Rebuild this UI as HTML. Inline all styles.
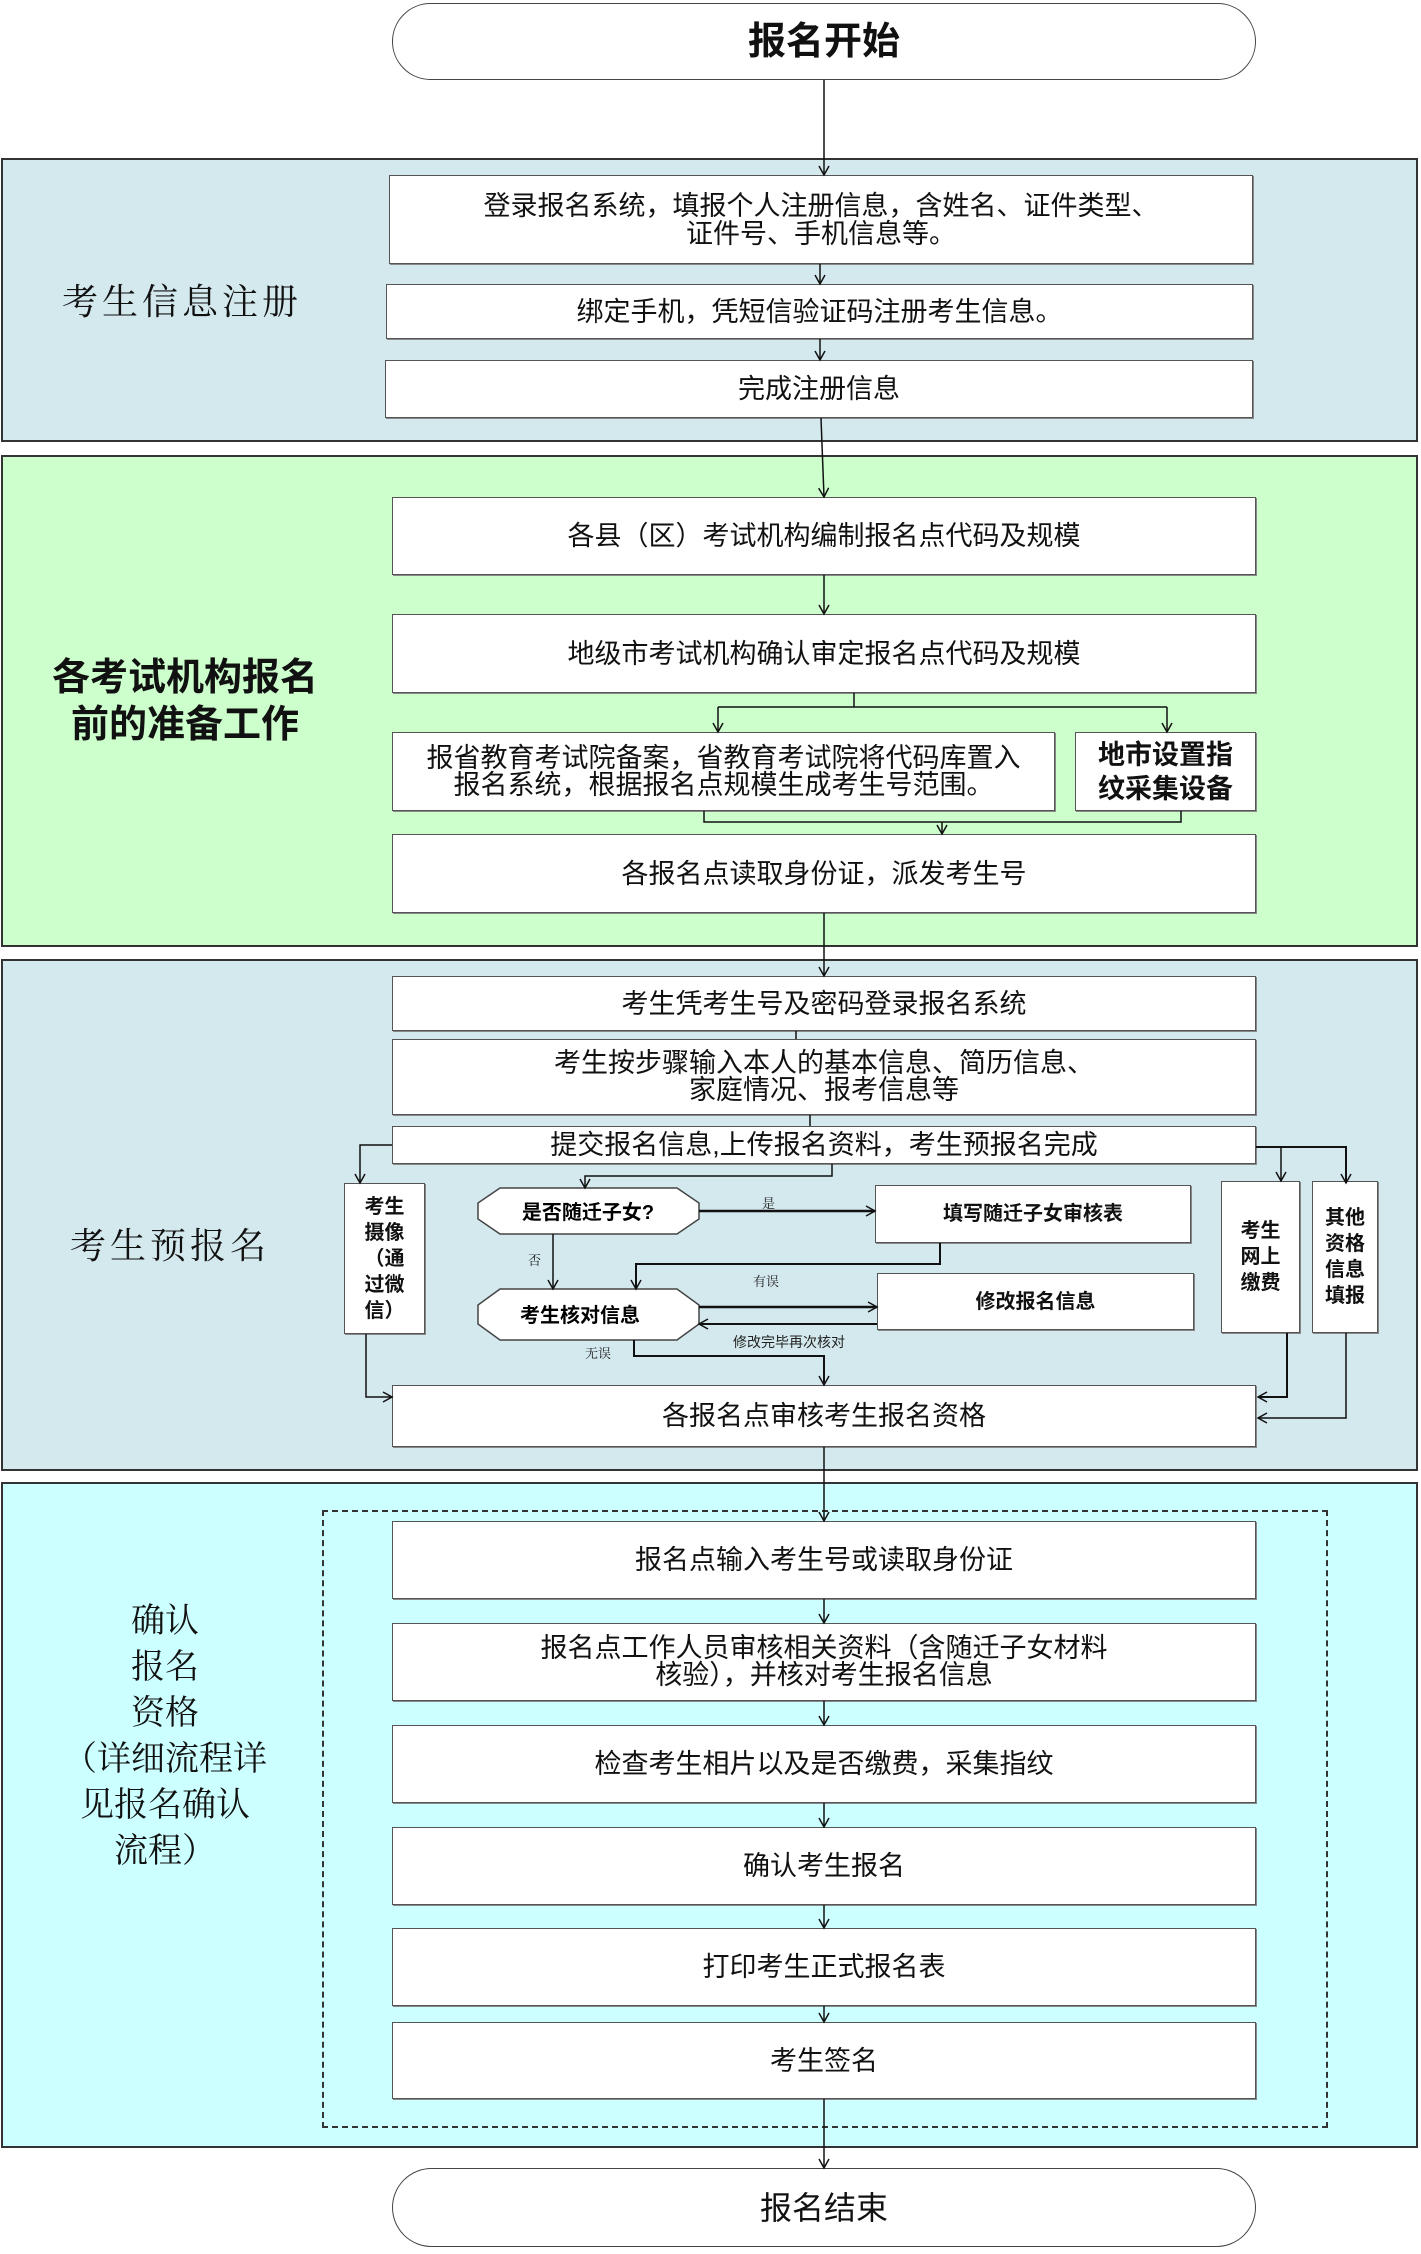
<!DOCTYPE html>
<html><head><meta charset="utf-8">
<style>
*{margin:0;padding:0;box-sizing:border-box}
body{width:1421px;height:2254px;background:#fff;position:relative;overflow:hidden;font-family:"Liberation Sans","Noto Sans CJK SC",sans-serif;color:#111}
.a{position:absolute}
.sec{position:absolute;left:1px;width:1417px;border:2px solid #333}
.box{position:absolute;background:#fff;border:1.5px solid #555;box-shadow:1px 1px 0 #888;display:flex;align-items:center;justify-content:center;text-align:center;font-size:27px;line-height:28px}
.kai{font-family:"Noto Serif CJK SC","WenQuanYi Zen Hei",serif}
.b{font-weight:bold}
.vt{font-size:20px;font-weight:bold;line-height:26px}
</style></head><body>

<div class="sec" style="top:158px;height:284px;background:#d4e9ee"></div>
<div class="sec" style="top:455px;height:492px;background:#ccffcc"></div>
<div class="sec" style="top:959px;height:512px;background:#d4e9ee"></div>
<div class="sec" style="top:1482px;height:666px;background:#ccffff"></div>
<div class="a" style="left:322px;top:1510px;width:1006px;height:618px;border:2px dashed #333"></div>

<div class="box b" style="left:392px;top:3px;width:864px;height:77px;border-radius:40px;font-size:38px;box-shadow:none;border-color:#444">报名开始</div>
<div class="box" style="left:392px;top:2168px;width:864px;height:79px;border-radius:40px;font-size:32px;box-shadow:none;border-color:#444">报名结束</div>

<div class="a kai" style="left:62px;top:274px;font-size:36px;letter-spacing:4px">考生信息注册</div>
<div class="box" style="left:389px;top:175px;width:864px;height:89px">登录报名系统，填报个人注册信息，含姓名、证件类型、<br>证件号、手机信息等。</div>
<div class="box" style="left:386px;top:284px;width:867px;height:55px">绑定手机，凭短信验证码注册考生信息。</div>
<div class="box" style="left:385px;top:360px;width:868px;height:58px">完成注册信息</div>

<div class="a b" style="left:40px;top:655px;width:290px;text-align:center;font-size:38px;line-height:47px">各考试机构报名<br>前的准备工作</div>
<div class="box" style="left:392px;top:497px;width:864px;height:78px">各县（区）考试机构编制报名点代码及规模</div>
<div class="box" style="left:392px;top:614px;width:864px;height:79px">地级市考试机构确认审定报名点代码及规模</div>
<div class="box" style="left:392px;top:732px;width:663px;height:79px;line-height:27px">报省教育考试院备案，省教育考试院将代码库置入<br>报名系统，根据报名点规模生成考生号范围。</div>
<div class="box b" style="left:1075px;top:732px;width:181px;height:79px;font-size:27px;line-height:34px">地市设置指<br>纹采集设备</div>
<div class="box" style="left:392px;top:834px;width:864px;height:79px">各报名点读取身份证，派发考生号</div>

<div class="a kai" style="left:70px;top:1218px;font-size:36px;letter-spacing:4px">考生预报名</div>
<div class="box" style="left:392px;top:976px;width:864px;height:55px">考生凭考生号及密码登录报名系统</div>
<div class="box" style="left:392px;top:1039px;width:864px;height:76px;line-height:27px">考生按步骤输入本人的基本信息、简历信息、<br>家庭情况、报考信息等</div>
<div class="box" style="left:392px;top:1126px;width:864px;height:38px">提交报名信息,上传报名资料，考生预报名完成</div>
<div class="box vt" style="left:344px;top:1183px;width:81px;height:151px;padding:0 6px;align-items:center">考生<br>摄像<br>（通<br>过微<br>信）</div>
<div class="box vt" style="left:1221px;top:1181px;width:79px;height:152px">考生<br>网上<br>缴费</div>
<div class="box vt" style="left:1312px;top:1181px;width:66px;height:152px">其他<br>资格<br>信息<br>填报</div>
<div class="box b" style="left:875px;top:1185px;width:316px;height:58px;font-size:20px">填写随迁子女审核表</div>
<div class="box b" style="left:877px;top:1273px;width:317px;height:57px;font-size:20px">修改报名信息</div>
<div class="box" style="left:392px;top:1385px;width:864px;height:62px">各报名点审核考生报名资格</div>

<div class="a kai" style="left:40px;top:1595px;width:250px;text-align:center;font-size:34px;line-height:46px">确认<br>报名<br>资格<br>（详细流程详<br>见报名确认<br>流程）</div>
<div class="box" style="left:392px;top:1521px;width:864px;height:78px">报名点输入考生号或读取身份证</div>
<div class="box" style="left:392px;top:1623px;width:864px;height:78px;line-height:27px">报名点工作人员审核相关资料（含随迁子女材料<br>核验），并核对考生报名信息</div>
<div class="box" style="left:392px;top:1725px;width:864px;height:78px">检查考生相片以及是否缴费，采集指纹</div>
<div class="box" style="left:392px;top:1827px;width:864px;height:78px">确认考生报名</div>
<div class="box" style="left:392px;top:1928px;width:864px;height:78px">打印考生正式报名表</div>
<div class="box" style="left:392px;top:2022px;width:864px;height:77px">考生签名</div>

<svg class="a" style="left:0;top:0" width="1421" height="2254" viewBox="0 0 1421 2254">
<defs><marker id="ar" markerWidth="12" markerHeight="12" refX="10" refY="6" orient="auto" markerUnits="userSpaceOnUse"><path d="M1,1 L10,6 L1,11" fill="none" stroke="#111" stroke-width="1.5"/></marker></defs>
<g fill="#fff" stroke="#444" stroke-width="1.5">
<polygon points="500,1188 677,1188 699,1203 699,1219 677,1234 500,1234 478,1219 478,1203"/>
<polygon points="500,1289 677,1289 699,1305 699,1324 677,1340 500,1340 478,1324 478,1305"/>
</g>
<text x="588" y="1219" text-anchor="middle" font-size="20" font-weight="bold" font-family="Liberation Sans,Noto Sans CJK SC,sans-serif">是否随迁子女?</text>
<text x="580" y="1322" text-anchor="middle" font-size="20" font-weight="bold" font-family="Liberation Sans,Noto Sans CJK SC,sans-serif">考生核对信息</text>
<g font-family="Noto Serif CJK SC,serif" font-size="13" fill="#222">
<text x="762" y="1208">是</text><text x="528" y="1265">否</text><text x="753" y="1286">有误</text><text x="585" y="1358">无误</text>
</g>
<text x="733" y="1347" font-size="14" font-family="Liberation Sans,Noto Sans CJK SC,sans-serif" fill="#222">修改完毕再次核对</text>
<g stroke="#111" stroke-width="1.5" fill="none">
<path d="M824 80V175" marker-end="url(#ar)"/>
<path d="M820 264V284" marker-end="url(#ar)"/>
<path d="M820 339V360" marker-end="url(#ar)"/>
<path d="M821 418L824 497" marker-end="url(#ar)"/>
<path d="M824 575V614" marker-end="url(#ar)"/>
<path d="M854 693V707M718 707H1167"/>
<path d="M718 707V732" marker-end="url(#ar)"/>
<path d="M1167 707V732" marker-end="url(#ar)"/>
<path d="M704 811V822H1181V811"/>
<path d="M942 822V834" marker-end="url(#ar)"/>
<path d="M824 913V976" marker-end="url(#ar)"/>
<path d="M796 1031V1039M810 1115V1126"/>
<path d="M392 1145H360V1183" marker-end="url(#ar)"/>
<path d="M832 1164V1176H585V1188" marker-end="url(#ar)"/>
<path d="M699 1211H875" stroke-width="2.5" marker-end="url(#ar)"/>
<path d="M553 1234V1289" marker-end="url(#ar)"/>
<path d="M940 1243V1264H636V1289" stroke-width="2" marker-end="url(#ar)"/>
<path d="M699 1307H877" stroke-width="2.5" marker-end="url(#ar)"/>
<path d="M877 1324H699" stroke-width="2" marker-end="url(#ar)"/>
<path d="M634 1340V1356H824V1385" stroke-width="2" marker-end="url(#ar)"/>
<path d="M366 1334V1397H392" marker-end="url(#ar)"/>
<path d="M1256 1147H1346V1183" stroke-width="2" marker-end="url(#ar)"/>
<path d="M1281 1147V1181" marker-end="url(#ar)"/>
<path d="M1287 1333V1397H1258" stroke-width="2" marker-end="url(#ar)"/>
<path d="M1346 1333V1418H1258" marker-end="url(#ar)"/>
<path d="M824 1447V1521" marker-end="url(#ar)"/>
<path d="M824 1599V1623" marker-end="url(#ar)"/>
<path d="M824 1701V1725" marker-end="url(#ar)"/>
<path d="M824 1803V1827" marker-end="url(#ar)"/>
<path d="M824 1905V1928" marker-end="url(#ar)"/>
<path d="M824 2006V2022" marker-end="url(#ar)"/>
<path d="M824 2099V2168" marker-end="url(#ar)"/>
</g>
</svg>
</body></html>
